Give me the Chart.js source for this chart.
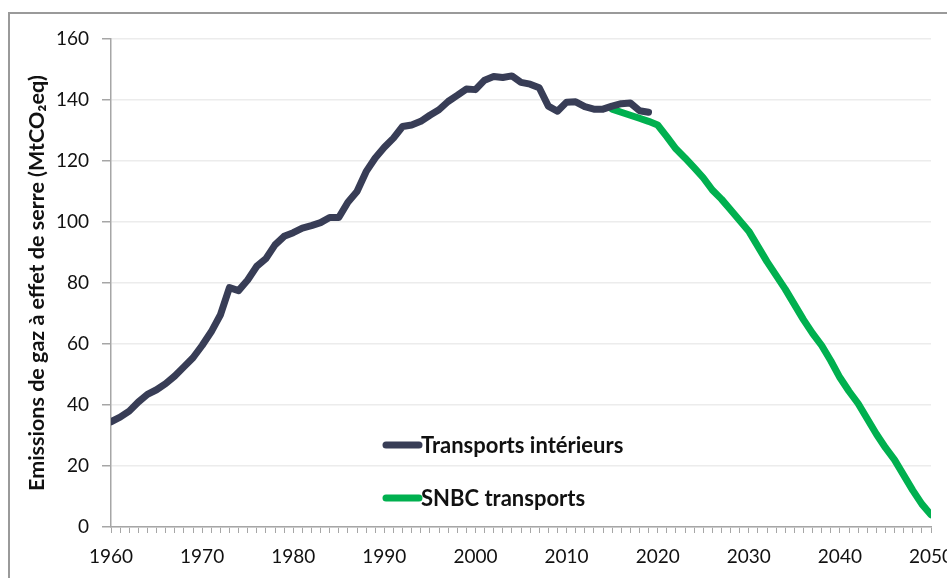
<!DOCTYPE html>
<html>
<head>
<meta charset="utf-8">
<script src="https://cdn.jsdelivr.net/npm/chart.js@4.4.1/dist/chart.umd.min.js"></script>
<style>
  html, body { margin: 0; padding: 0; background: #fff; }
  #wrap { width: 947px; height: 578px; }
</style>
</head>
<body>
<div id="wrap"><canvas id="chart"></canvas></div>
<script>
// Historical domestic transport emissions (MtCO2eq)
const histYears = [
  1960, 1961, 1962, 1963, 1964, 1965, 1966, 1967, 1968, 1969,
  1970, 1971, 1972, 1973, 1974, 1975, 1976, 1977, 1978, 1979,
  1980, 1981, 1982, 1983, 1984, 1985, 1986, 1987, 1988, 1989,
  1990, 1991, 1992, 1993, 1994, 1995, 1996, 1997, 1998, 1999,
  2000, 2001, 2002, 2003, 2004, 2005, 2006, 2007, 2008, 2009,
  2010, 2011, 2012, 2013, 2014, 2015, 2016, 2017, 2018, 2019,
]
const histValues = [
  34.5, 36, 38, 41, 43.5, 45, 47, 49.5, 52.5, 55.5,
  59.5, 64, 69.5, 78.5, 77.5, 81, 85.5, 88, 92.5, 95.3,
  96.5, 98, 98.8, 99.8, 101.5, 101.5, 106.5, 110, 116.5, 121,
  124.5, 127.5, 131.3, 131.8, 133, 135, 136.8, 139.5, 141.5, 143.6,
  143.4, 146.5, 147.7, 147.4, 147.9, 145.8, 145.2, 144, 138, 136.3,
  139.3, 139.4, 137.8, 137, 137, 138, 138.8, 139, 136.5, 136,
]

// SNBC trajectory
const snbcYears = [
  2015, 2016, 2017, 2018, 2019, 2020, 2021, 2022, 2023, 2024,
  2025, 2026, 2027, 2028, 2029, 2030, 2031, 2032, 2033, 2034,
  2035, 2036, 2037, 2038, 2039, 2040, 2041, 2042, 2043, 2044,
  2045, 2046, 2047, 2048, 2049, 2050,
]
const snbcValues = [
  137, 136, 135, 134, 133, 131.8, 128, 124, 121, 117.8,
  114.5, 110.5, 107.5, 104, 100.5, 97, 92, 87, 82.5, 78,
  73, 68, 63.5, 59.5, 54.5, 49, 44.5, 40.5, 35.5, 30.5,
  26, 22, 17, 12, 7.5, 4,
]

const seriesLabels = ['Transports intérieurs', 'SNBC transports']
const yTitle = 'Emissions de gaz à effet de serre (MtCO₂eq)'

const FONT = 'Lato, "Open Sans", sans-serif'
const DARK = '#383d56'
const GREEN = '#00b04f'

const toPoints = (xs, ys) => xs.map((x, i) => ({ x, y: ys[i] }))

// grey frame clipped at right/bottom like the source screenshot
const framePlugin = {
  id: 'frame',
  beforeDraw(chart) {
    const { ctx } = chart
    ctx.save()
    ctx.strokeStyle = '#9a9a9a'
    ctx.lineWidth = 2
    ctx.strokeRect(9, 13, 1200, 1200)
    ctx.restore()
  },
}

// legend sits inside the plot area
const insideLegend = {
  id: 'insideLegend',
  afterDraw(chart) {
    const { ctx } = chart
    chart.data.datasets.forEach((ds, i) => {
      const y = 445 + i * 53
      ctx.save()
      ctx.strokeStyle = ds.borderColor
      ctx.lineWidth = 7
      ctx.lineCap = 'round'
      ctx.beginPath()
      ctx.moveTo(386, y)
      ctx.lineTo(419, y)
      ctx.stroke()
      ctx.fillStyle = '#111'
      ctx.font = `bold 22px ${FONT}`
      ctx.textBaseline = 'middle'
      ctx.fillText(ds.label, 421, y + 1)
      ctx.restore()
    })
  },
}

new Chart(document.getElementById('chart'), {
  type: 'line',
  data: {
    datasets: [
      {
        label: seriesLabels[0],
        data: toPoints(histYears, histValues),
        borderColor: DARK,
        borderWidth: 7,
        pointRadius: 0,
        tension: 0,
        borderJoinStyle: 'round',
        borderCapStyle: 'round',
      },
      {
        label: seriesLabels[1],
        data: toPoints(snbcYears, snbcValues),
        borderColor: GREEN,
        borderWidth: 7,
        pointRadius: 0,
        tension: 0,
        borderJoinStyle: 'round',
        borderCapStyle: 'round',
      },
    ],
  },
  options: {
    responsive: true,
    maintainAspectRatio: false,
    animation: false,
    layout: { padding: { left: 0, top: 39, right: 16, bottom: 0 } },
    plugins: {
      legend: { display: false },
      tooltip: { enabled: false },
    },
    scales: {
      x: {
        type: 'linear',
        min: 1960,
        max: 2050,
        border: { color: '#a6a6a6', width: 1.5 },
        grid: { drawOnChartArea: false, tickLength: 6, tickColor: '#a6a6a6', lineWidth: 1 },
        ticks: {
          stepSize: 1,
          autoSkip: false,
          maxRotation: 0,
          padding: 12,
          color: '#111',
          font: { family: FONT, size: 19 },
          callback: v => (Math.round(v) % 10 === 0 ? String(Math.round(v)) : ''),
        },
        afterFit(scale) {
          scale.paddingLeft = 0
          scale.paddingRight = 0
          scale.height = 51
        },
      },
      y: {
        min: 0,
        max: 160,
        border: { color: '#a6a6a6', width: 1.5 },
        grid: { color: '#ececec', lineWidth: 1.5, tickLength: 9, tickColor: '#a6a6a6' },
        ticks: {
          stepSize: 20,
          padding: 13,
          color: '#111',
          font: { family: FONT, size: 19 },
        },
        title: {
          display: true,
          text: yTitle,
          color: '#111',
          font: { family: FONT, size: 21.5, weight: 'bold' },
          padding: { top: 24, bottom: 0 },
        },
        afterFit(scale) {
          scale.width = 111
        },
      },
    },
  },
  plugins: [framePlugin, insideLegend],
})
</script>
</body>
</html>
